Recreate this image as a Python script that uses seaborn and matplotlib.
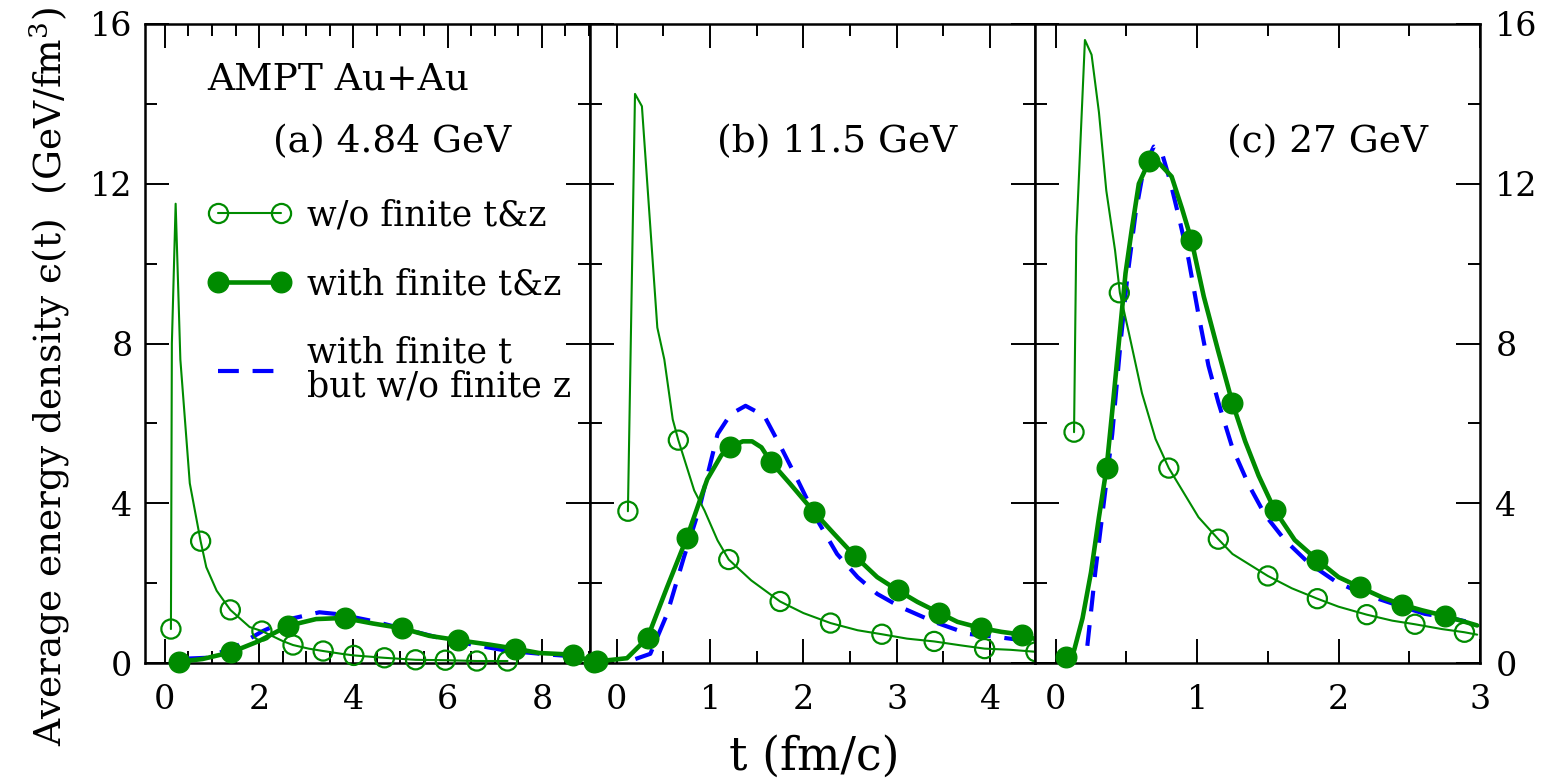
import matplotlib
matplotlib.use("Agg")
import matplotlib.pyplot as plt
import seaborn as sns
from matplotlib.lines import Line2D
from matplotlib.ticker import MultipleLocator

OUT_PNG = "out.png"
GREEN = "#008b00"
BLUE = "#0000ff"

# ---- (a) 4.84 GeV ----
A_T_THIN = [0.13, 0.15, 0.23, 0.33, 0.53, 0.76, 0.88, 1.1, 1.39, 1.8, 2.06, 2.5, 2.72, 3.05, 3.36, 3.75, 4.01, 4.66, 5.32, 5.95, 6.62, 7.27]
A_E_THIN = [0.85, 8.0, 11.5, 7.6, 4.5, 3.05, 2.4, 1.81, 1.33, 0.9, 0.8, 0.55, 0.45, 0.36, 0.3, 0.23, 0.19, 0.13, 0.08, 0.07, 0.05, 0.05]
A_T_OPEN = [0.13, 0.76, 1.39, 2.06, 2.72, 3.36, 4.01, 4.66, 5.32, 5.95, 6.62, 7.27]
A_E_OPEN = [0.85, 3.05, 1.33, 0.8, 0.45, 0.3, 0.19, 0.13, 0.08, 0.07, 0.05, 0.05]
A_T_THICK = [0.30, 0.8, 1.41, 2.0, 2.61, 3.21, 3.63, 3.83, 4.41, 5.03, 5.61, 6.23, 6.89, 7.43, 7.94, 8.65, 9.11]
A_E_THICK = [0.03, 0.1, 0.27, 0.55, 0.93, 1.1, 1.12, 1.12, 0.99, 0.87, 0.68, 0.57, 0.46, 0.36, 0.25, 0.21, 0.02]
A_T_FILL = [0.30, 1.41, 2.61, 3.83, 5.03, 6.23, 7.43, 8.65, 9.11]
A_E_FILL = [0.03, 0.27, 0.93, 1.12, 0.87, 0.57, 0.36, 0.21, 0.02]
A_T_DASH = [0.46, 0.88, 1.52, 2.08, 2.65, 3.28, 3.7, 4.41, 5.12, 5.82, 6.53, 7.24, 8.16, 8.65, 9.15]
A_E_DASH = [0.11, 0.13, 0.42, 0.8, 1.1, 1.27, 1.22, 1.05, 0.84, 0.63, 0.46, 0.31, 0.21, 0.17, 0.08]

# ---- (b) 11.5 GeV ----
B_T_THIN = [0.12, 0.196, 0.27, 0.435, 0.51, 0.60, 0.66, 0.83, 0.94, 1.08, 1.20, 1.44, 1.75, 2.0, 2.29, 2.58, 2.84, 3.11, 3.40, 3.69, 3.94, 4.22, 4.49]
B_E_THIN = [3.8, 14.25, 13.94, 8.4, 7.6, 6.1, 5.58, 4.32, 3.82, 3.07, 2.59, 2.07, 1.54, 1.25, 1.0, 0.82, 0.72, 0.61, 0.54, 0.44, 0.36, 0.33, 0.28]
B_T_OPEN = [0.12, 0.66, 1.20, 1.75, 2.29, 2.84, 3.40, 3.94, 4.49]
B_E_OPEN = [3.8, 5.58, 2.59, 1.54, 1.0, 0.72, 0.54, 0.36, 0.28]
B_T_THICK = [-0.21, 0.11, 0.33, 0.54, 0.75, 0.97, 1.12, 1.21, 1.35, 1.45, 1.55, 1.65, 1.86, 2.11, 2.33, 2.55, 2.79, 3.01, 3.22, 3.45, 3.65, 3.90, 4.12, 4.34, 4.48]
B_E_THICK = [0.04, 0.12, 0.63, 1.9, 3.13, 4.6, 5.2, 5.4, 5.55, 5.55, 5.4, 5.04, 4.48, 3.79, 3.23, 2.68, 2.15, 1.82, 1.53, 1.26, 1.03, 0.875, 0.78, 0.71, 0.6]
B_T_FILL = [-0.21, 0.33, 0.75, 1.21, 1.65, 2.11, 2.55, 3.01, 3.45, 3.90, 4.34]
B_E_FILL = [0.04, 0.63, 3.13, 5.4, 5.04, 3.79, 2.68, 1.82, 1.26, 0.875, 0.71]
B_T_DASH = [0.2, 0.36, 0.54, 0.72, 0.88, 1.08, 1.22, 1.38, 1.58, 1.76, 1.94, 2.15, 2.36, 2.58, 2.79, 3.04, 3.40, 3.76, 4.08, 4.47]
B_E_DASH = [0.1, 0.23, 1.23, 2.65, 3.82, 5.73, 6.23, 6.44, 6.19, 5.4, 4.57, 3.57, 2.73, 2.15, 1.73, 1.4, 1.03, 0.73, 0.65, 0.53]

# ---- (c) 27 GeV ----
C_T_THIN = [0.13, 0.146, 0.207, 0.254, 0.306, 0.358, 0.42, 0.454, 0.518, 0.61, 0.706, 0.80, 1.01, 1.15, 1.25, 1.50, 1.67, 1.85, 2.0, 2.20, 2.38, 2.54, 2.73, 2.89, 2.98]
C_E_THIN = [5.78, 10.68, 15.6, 15.23, 13.79, 11.83, 10.33, 9.27, 8.26, 6.76, 5.61, 4.88, 3.65, 3.10, 2.73, 2.18, 1.87, 1.61, 1.41, 1.21, 1.06, 0.97, 0.85, 0.77, 0.71]
C_T_OPEN = [0.13, 0.45, 0.80, 1.15, 1.50, 1.85, 2.20, 2.54, 2.89]
C_E_OPEN = [5.78, 9.27, 4.88, 3.10, 2.18, 1.61, 1.21, 0.97, 0.77]
C_T_THICK = [0.07, 0.13, 0.19, 0.25, 0.306, 0.36, 0.40, 0.447, 0.494, 0.54, 0.588, 0.66, 0.73, 0.82, 0.894, 0.96, 1.047, 1.15, 1.25, 1.34, 1.435, 1.55, 1.69, 1.85, 2.0, 2.15, 2.31, 2.45, 2.59, 2.75, 2.98]
C_E_THICK = [0.14, 0.31, 1.12, 2.27, 3.65, 4.88, 6.3, 8.03, 9.76, 10.9, 12.0, 12.56, 12.52, 12.18, 11.37, 10.59, 9.18, 7.8, 6.51, 5.55, 4.69, 3.82, 3.08, 2.58, 2.15, 1.90, 1.64, 1.46, 1.32, 1.18, 0.94]
C_T_FILL = [0.07, 0.36, 0.66, 0.96, 1.25, 1.55, 1.85, 2.15, 2.45, 2.75]
C_E_FILL = [0.14, 4.88, 12.56, 10.59, 6.51, 3.82, 2.58, 1.90, 1.46, 1.18]
C_T_DASH = [0.224, 0.28, 0.34, 0.40, 0.459, 0.506, 0.565, 0.624, 0.694, 0.753, 0.81, 0.88, 0.94, 1.01, 1.08, 1.15, 1.25, 1.365, 1.48, 1.62, 1.79, 1.98, 2.16, 2.38, 2.61, 2.8, 2.98]
C_E_DASH = [0.43, 2.27, 4.0, 5.73, 8.03, 9.64, 11.26, 12.41, 12.93, 12.75, 12.06, 11.03, 10.1, 8.72, 7.45, 6.53, 5.38, 4.46, 3.71, 3.08, 2.5, 2.04, 1.75, 1.49, 1.23, 1.12, 0.98]

PANEL_TEXT = ["(a) 4.84 GeV", "(b) 11.5 GeV", "(c) 27 GeV"]
PANEL_TEXT_X = [0.287, 0.285, 0.432]
XLIMS = [(-0.42, 9.02), (-0.286, 4.48), (-0.146, 3.0)]
XMAJOR = [2, 1, 1]
LEGEND_LABELS = ["w/o finite t&z", "with finite t&z", "with finite t\nbut w/o finite z"]

sns.set_theme(style="ticks")
plt.rcParams["font.family"] = ["DejaVu Serif"]
plt.rcParams["mathtext.fontset"] = "dejavuserif"
plt.rcParams["text.color"] = "black"
plt.rcParams["axes.labelcolor"] = "black"

DASH = (0, (5, 3.3))


def draw_panel(ax, thin_t, thin_e, open_t, open_e, thick_t, thick_e, fill_t, fill_e, dash_t, dash_e):
    sns.lineplot(x=dash_t, y=dash_e, ax=ax, color=BLUE, lw=3.0, linestyle=DASH,
                 sort=False, estimator=None, clip_on=False, zorder=3)
    sns.lineplot(x=thick_t, y=thick_e, ax=ax, color=GREEN, lw=3.3,
                 sort=False, estimator=None, clip_on=False, zorder=3)
    sns.lineplot(x=thin_t, y=thin_e, ax=ax, color=GREEN, lw=1.5,
                 sort=False, estimator=None, clip_on=False, zorder=3)
    sns.scatterplot(x=fill_t, y=fill_e, ax=ax, color=GREEN, marker="o", s=220,
                    edgecolor=GREEN, linewidth=1.0, clip_on=False, zorder=4)
    sns.scatterplot(x=open_t, y=open_e, ax=ax, color=GREEN, marker="o", s=190,
                    facecolor="none", edgecolor=GREEN, linewidth=1.6, clip_on=False, zorder=4)


fig, axes = plt.subplots(1, 3, figsize=(15.45, 7.84), dpi=100)
fig.subplots_adjust(left=145 / 1545, right=1480 / 1545, bottom=1 - 663 / 784, top=1 - 24 / 784, wspace=0)

draw_panel(axes[0], A_T_THIN, A_E_THIN, A_T_OPEN, A_E_OPEN, A_T_THICK, A_E_THICK, A_T_FILL, A_E_FILL, A_T_DASH, A_E_DASH)
draw_panel(axes[1], B_T_THIN, B_E_THIN, B_T_OPEN, B_E_OPEN, B_T_THICK, B_E_THICK, B_T_FILL, B_E_FILL, B_T_DASH, B_E_DASH)
draw_panel(axes[2], C_T_THIN, C_E_THIN, C_T_OPEN, C_E_OPEN, C_T_THICK, C_E_THICK, C_T_FILL, C_E_FILL, C_T_DASH, C_E_DASH)

for i, ax in enumerate(axes):
    ax.set_xlim(*XLIMS[i])
    ax.set_ylim(0, 16)
    ax.xaxis.set_major_locator(MultipleLocator(XMAJOR[i]))
    ax.xaxis.set_minor_locator(MultipleLocator(0.5))
    ax.yaxis.set_major_locator(MultipleLocator(4))
    ax.yaxis.set_minor_locator(MultipleLocator(2))
    ax.tick_params(which="both", direction="in", top=True, right=True, width=1.4,
                   labelsize=24, color="black", labelcolor="black")
    ax.tick_params(which="major", length=17)
    ax.tick_params(which="minor", length=8.5)
    ax.tick_params(axis="x", pad=15)
    ax.tick_params(axis="y", labelleft=(i == 0), labelright=(i == 2), pad=(9 if i == 0 else 11))
    ax.set_xlabel("")
    ax.set_ylabel("")
    for sp in ax.spines.values():
        sp.set_visible(True)
        sp.set_linewidth(1.8)
        sp.set_color("black")
    ax.text(PANEL_TEXT_X[i], 0.80, PANEL_TEXT[i], transform=ax.transAxes,
            fontsize=27, color="black", ha="left", va="baseline")

axes[0].text(0.141, 0.897, "AMPT Au+Au", transform=axes[0].transAxes,
             fontsize=27, color="black", ha="left", va="baseline")

handles = [
    Line2D([], [], color=GREEN, lw=1.5, marker="o", ms=13.8, mfc="none", mec=GREEN, mew=1.6),
    Line2D([], [], color=GREEN, lw=3.3, marker="o", ms=14.8, mfc=GREEN, mec=GREEN, mew=1.0),
    Line2D([], [], color=BLUE, lw=3.0, linestyle=DASH),
]
leg = axes[0].legend(handles, LEGEND_LABELS, loc="upper left", bbox_to_anchor=(0.141, 0.727),
                     frameon=False, numpoints=2, handlelength=2.4, handletextpad=0.46,
                     labelspacing=1.0, borderpad=0, borderaxespad=0, fontsize=25,
                     labelcolor="black")
for txt in leg.get_texts():
    txt.set_linespacing(1.0)

fig.text(814 / 1545, 1 - 757 / 784, "t (fm/c)", fontsize=33, color="black", ha="center", va="center")
fig.text(50 / 1545, 1 - 376 / 784, "Average energy density \u03f5(t)  (GeV/fm$^3$)",
         fontsize=27, color="black", rotation=90, ha="center", va="center")

fig.savefig(OUT_PNG, dpi=100)
